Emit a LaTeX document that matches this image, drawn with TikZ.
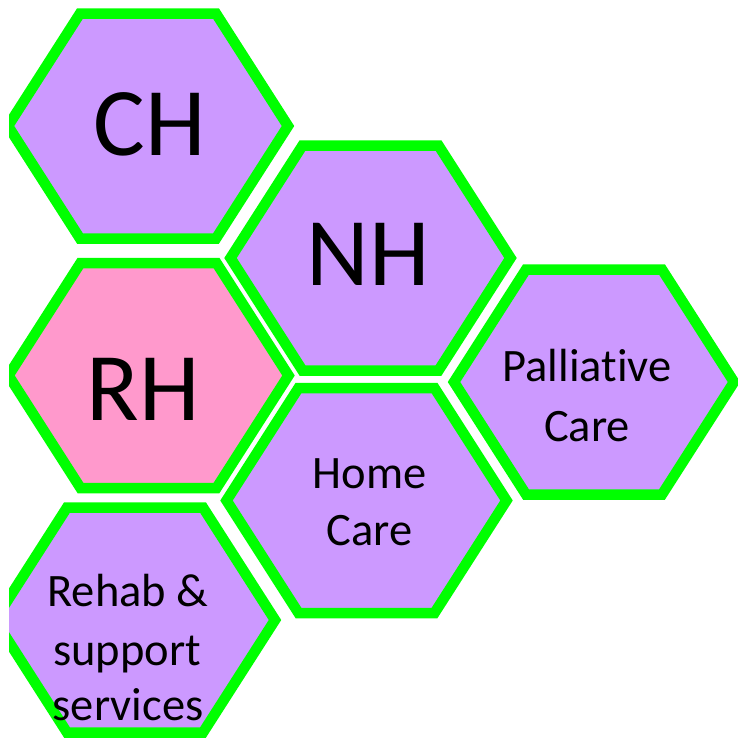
\documentclass[tikz,border=0pt]{standalone}
\usepackage{fontspec}
\setmainfont{Carlito}[Ligatures={NoCommon,NoContextual}]
\definecolor{hexpurple}{HTML}{CC99FF}
\definecolor{hexpink}{HTML}{FF99CC}
\definecolor{hexgreen}{HTML}{00FF00}
\tikzset{
  hexcell/.style={draw=hexgreen, line width=10.5pt, line join=miter, miter limit=10},
  bigtext/.style={font=\fontsize{97}{116}\selectfont, inner sep=0pt, anchor=base, text=black},
  smalltext/.style={font=\fontsize{46.5}{58}\selectfont, inner sep=0pt, anchor=base, text=black}
}
\newcommand\hexat[3]{\path[hexcell,fill=#3] ({#1-140},{#2}) -- ({#1-68},{#2-112.5}) -- ({#1+68},{#2-112.5}) -- ({#1+140},{#2}) -- ({#1+68},{#2+112.5}) -- ({#1-68},{#2+112.5}) -- cycle;}
\begin{document}
\begin{tikzpicture}[x=1pt,y=-1pt]
\useasboundingbox (0,0) rectangle (738,737);
\begin{scope}
\clip (9,0) rectangle (738,737);
\hexat{148}{126}{hexpurple}
\hexat{370.5}{258}{hexpurple}
\hexat{148.5}{375.5}{hexpink}
\hexat{594}{382}{hexpurple}
\hexat{366.5}{500.5}{hexpurple}
\hexat{135}{620}{hexpurple}
\end{scope}
\node[bigtext] (ch) at (150,155) {CH};
\node[bigtext] (nh) at (368,285) {NH};
\node[bigtext] (rh) at (143,420) {RH};
\node[smalltext] (pal1) at (587,381.7) {Palliative};
\node[smalltext] (pal2) at (587,441.7) {Care};
\node[smalltext] (home1) at (369.5,488.3) {Home};
\node[smalltext] (home2) at (369.5,545.7) {Care};
\node[smalltext] (reh1) at (128,606.7) {Rehab \&};
\node[smalltext] (reh2) at (127,665) {support};
\node[smalltext] (reh3) at (128,720.5) {services};
\end{tikzpicture}
\end{document}
